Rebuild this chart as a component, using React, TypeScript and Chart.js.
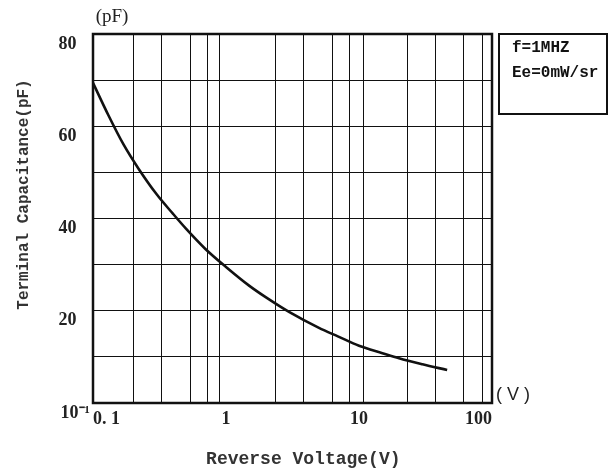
import React, { useEffect, useRef } from 'react';
import { Chart, registerables } from 'chart.js';

Chart.register(...registerables);

// Curve (reverse voltage in V, capacitance in pF)
const voltages = [0.1, 0.13, 0.17, 0.22, 0.3, 0.4, 0.5, 0.7, 1, 1.5, 2, 3, 5, 7, 10, 15, 20, 30, 46];
const capacitance = [69.4, 62.5, 56, 50.8, 45.3, 41, 37.8, 33.4, 29.5, 25.4, 22.9, 19.7, 16.3, 14.4, 12.4, 10.8, 9.7, 8.4, 7.15];

// Vertical grid lines as drawn in the reference
const xGridValues = [0.1, 0.2, 0.325, 0.54, 0.72, 0.89, 2.35, 3.82, 6.3, 8.55, 10.8, 23.2, 37.6, 61, 84.5, 100];
// Labelled x ticks
const xLabelValues = [0.1, 1, 10, 100];
const xLabelTexts = ['0. 1', '1', '10', '100'];

// Y axis
const yMin = 0;
const yMax = 80;
const yStep = 10;
const yLabelValues = [0, 20, 40, 60, 80];
const yLabelTexts = ['10\u207B\u00B9', '20   ', '40   ', '60   ', '80   '];

const xTitle = '  Reverse Voltage(V)';
const yTitle = '     Terminal Capacitance(pF)';
const yUnit = '(pF)';
const xUnit = '( V )';
const legendLines = ['f=1MHZ', 'Ee=0mW/sr'];

const decor = {
  id: 'decor',
  afterDraw(chart: any) {
    const { ctx, chartArea: a } = chart;
    ctx.save();
    ctx.strokeStyle = '#111';
    ctx.lineWidth = 2.5;
    ctx.strokeRect(a.left, a.top, a.right - a.left, a.bottom - a.top);
    const bx = a.right + 7;
    const by = a.top;
    const bw = 108;
    const bh = 80;
    ctx.lineWidth = 2;
    ctx.strokeRect(bx, by, bw, bh);
    ctx.fillStyle = '#111';
    ctx.font = 'bold 16px "Liberation Mono"';
    ctx.textBaseline = 'middle';
    ctx.textAlign = 'left';
    legendLines.forEach((t, i) => ctx.fillText(t, bx + 13, by + 14 + i * 25));
    ctx.font = '19px "Liberation Serif"';
    ctx.textAlign = 'center';
    ctx.fillStyle = '#222';
    ctx.fillText(yUnit, a.left + 19, a.top - 17);
    ctx.font = '18px "Liberation Sans"';
    ctx.textAlign = 'left';
    ctx.fillText(xUnit, a.right + 4, a.bottom - 8);
    ctx.restore();
  },
};

export default function App() {
  const ref = useRef<HTMLCanvasElement>(null);

  useEffect(() => {
    if (!ref.current) return;
    const gridSet = new Set(xGridValues);
    const allX = Array.from(new Set([...xGridValues, ...xLabelValues])).sort((a, b) => a - b);
    const chart = new Chart(ref.current, {
      type: 'line',
      data: {
        datasets: [
          {
            data: voltages.map((v, i) => ({ x: v, y: capacitance[i] })),
            borderColor: '#111',
            borderWidth: 2.6,
            pointRadius: 0,
            fill: false,
            cubicInterpolationMode: 'monotone',
          },
        ],
      },
      options: {
        responsive: false,
        animation: false,
        layout: { padding: { left: 0, top: 34, right: 124, bottom: 0 } },
        plugins: { legend: { display: false }, tooltip: { enabled: false }, title: { display: false } },
        scales: {
          x: {
            type: 'logarithmic',
            min: 0.1,
            max: 100,
            afterBuildTicks: (scale: any) => {
              scale.ticks = allX.map((v) => ({ value: v }));
            },
            afterFit: (scale: any) => {
              scale.height = 69;
            },
            grid: {
              drawTicks: false,
              lineWidth: 1,
              color: (ctx: any) => (ctx.tick && gridSet.has(ctx.tick.value) ? '#111' : 'rgba(0,0,0,0)'),
            },
            border: { display: false },
            ticks: {
              autoSkip: false,
              maxRotation: 0,
              minRotation: 0,
              align: 'inner',
              padding: 6,
              color: '#222',
              font: { family: '"Liberation Serif"', size: 18, weight: 'bold' },
              callback: (value: any) => {
                const idx = xLabelValues.indexOf(Number(value));
                return idx >= 0 ? xLabelTexts[idx] : '';
              },
            },
            title: {
              display: true,
              text: xTitle,
              color: '#333',
              font: { family: '"Liberation Mono"', size: 18, weight: 'bold' },
              padding: { top: 0, bottom: 2 },
            },
          },
          y: {
            type: 'linear',
            min: yMin,
            max: yMax,
            afterFit: (scale: any) => {
              scale.width = 93;
            },
            grid: { drawTicks: false, lineWidth: 1, color: '#111' },
            border: { display: false },
            ticks: {
              stepSize: yStep,
              padding: 3,
              labelOffset: 10,
              color: '#222',
              font: { family: '"Liberation Serif"', size: 18, weight: 'bold' },
              callback: (value: any) => {
                const idx = yLabelValues.indexOf(Number(value));
                return idx >= 0 ? yLabelTexts[idx] : '';
              },
            },
            title: {
              display: true,
              text: yTitle,
              color: '#333',
              font: { family: '"Liberation Mono"', size: 16, weight: 'bold' },
              padding: { top: 14, bottom: 0 },
            },
          },
        },
      },
      plugins: [decor],
    } as any);
    return () => chart.destroy();
  }, []);

  return (
    <div style={{ position: 'fixed', left: 0, top: 0, width: 616, height: 472, background: '#fff' }}>
      <canvas ref={ref} width={616} height={472} style={{ display: 'block' }} />
    </div>
  );
}
